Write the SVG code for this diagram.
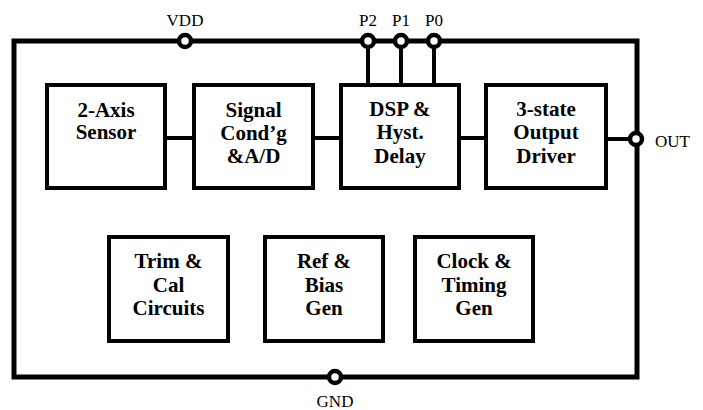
<svg xmlns="http://www.w3.org/2000/svg" width="703" height="410" viewBox="0 0 703 410">
<style>
.box{fill:#fff;stroke:#000;stroke-width:4}
.t{font-family:'Liberation Serif',Tinos,'DejaVu Serif',serif;font-weight:bold;font-size:21px;text-anchor:middle;fill:#000}
.lbl{font-family:'Liberation Serif',Tinos,'DejaVu Serif',serif;font-size:17px;fill:#000}
.w{stroke:#000;stroke-width:4;fill:none}
.pin{fill:#fff;stroke:#000;stroke-width:4.5}
</style>
<rect width="703" height="410" fill="#fff"/>
<g id="chip">
<rect x="14" y="41" width="623" height="336" fill="none" stroke="#000" stroke-width="5"/>
</g>
<g id="connectors">
<line class="w" x1="165" y1="138" x2="194" y2="138"/>
<line class="w" x1="313" y1="138" x2="341" y2="138"/>
<line class="w" x1="459" y1="138" x2="486" y2="138"/>
<line class="w" x1="606" y1="139" x2="636" y2="139"/>
<line class="w" x1="368" y1="41" x2="368" y2="85"/>
<line class="w" x1="401" y1="41" x2="401" y2="85"/>
<line class="w" x1="434" y1="41" x2="434" y2="85"/>
</g>
<g id="sensor"><rect class="box" x="47" y="85" width="118" height="103"/><text class="t" x="106" y="117">2-Axis</text><text class="t" x="106" y="139">Sensor</text></g>
<g id="signal"><rect class="box" x="194" y="85" width="119" height="103"/><text class="t" x="253.5" y="117">Signal</text><text class="t" x="253.5" y="140">Cond’g</text><text class="t" x="253.5" y="163">&amp;A/D</text></g>
<g id="dsp"><rect class="box" x="341" y="85" width="118" height="103"/><text class="t" x="400" y="116">DSP &amp;</text><text class="t" x="400" y="139">Hyst.</text><text class="t" x="400" y="163">Delay</text></g>
<g id="output"><rect class="box" x="486" y="85" width="120" height="103"/><text class="t" x="546" y="116">3-state</text><text class="t" x="546" y="139">Output</text><text class="t" x="546" y="163">Driver</text></g>
<g id="trim"><rect class="box" x="109" y="237" width="119" height="104"/><text class="t" x="168.5" y="268">Trim &amp;</text><text class="t" x="168.5" y="292">Cal</text><text class="t" x="168.5" y="315">Circuits</text></g>
<g id="ref"><rect class="box" x="265" y="237" width="118" height="104"/><text class="t" x="324" y="268">Ref &amp;</text><text class="t" x="324" y="292">Bias</text><text class="t" x="324" y="315">Gen</text></g>
<g id="clock"><rect class="box" x="415" y="237" width="118" height="104"/><text class="t" x="474" y="268">Clock &amp;</text><text class="t" x="474" y="292">Timing</text><text class="t" x="474" y="315">Gen</text></g>
<g id="pin-vdd"><circle class="pin" cx="185" cy="41" r="6"/><text class="lbl" x="185" y="26" text-anchor="middle">VDD</text></g>
<g id="pin-p2"><circle class="pin" cx="368" cy="41" r="6"/><text class="lbl" x="368" y="26" text-anchor="middle">P2</text></g>
<g id="pin-p1"><circle class="pin" cx="401" cy="41" r="6"/><text class="lbl" x="401" y="26" text-anchor="middle">P1</text></g>
<g id="pin-p0"><circle class="pin" cx="434" cy="41" r="6"/><text class="lbl" x="434" y="26" text-anchor="middle">P0</text></g>
<g id="pin-out"><circle class="pin" cx="636" cy="139" r="6"/><text class="lbl" x="655" y="147">OUT</text></g>
<g id="pin-gnd"><circle class="pin" cx="335" cy="377" r="6"/><text class="lbl" x="335" y="407" text-anchor="middle">GND</text></g>
</svg>
